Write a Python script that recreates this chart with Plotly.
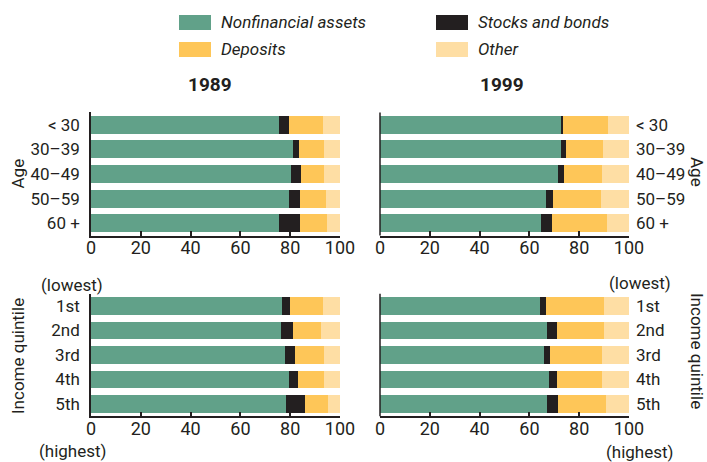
import plotly.graph_objects as go

# ---------------- data ----------------
series_names = ["Nonfinancial assets", "Stocks and bonds", "Deposits", "Other"]
series_colors = ["#61A189", "#231F20", "#FEC658", "#FEDEA4"]

age_cats = ["< 30", "30–39", "40–49", "50–59", "60 +"]
income_cats = ["1st", "2nd", "3rd", "4th", "5th"]
x_ticks = [0, 20, 40, 60, 80, 100]

# 1989, by age
age89_nonfin = [75.6, 81.2, 80.4, 79.6, 75.6]
age89_stocks = [4.0, 2.4, 4.1, 4.4, 8.4]
age89_deposits = [13.7, 10.1, 9.2, 10.5, 10.9]
age89_other = [6.7, 6.3, 6.3, 5.5, 5.1]

# 1999, by age
age99_nonfin = [72.7, 72.7, 71.5, 66.7, 64.7]
age99_stocks = [0.8, 2.0, 2.4, 2.8, 4.4]
age99_deposits = [18.1, 14.9, 15.3, 19.3, 22.1]
age99_other = [8.4, 10.4, 10.8, 11.2, 8.8]

# 1989, by income quintile
inc89_nonfin = [76.8, 76.4, 78.0, 79.6, 78.4]
inc89_stocks = [3.2, 4.8, 4.0, 3.6, 7.7]
inc89_deposits = [13.3, 11.3, 11.7, 10.5, 9.2]
inc89_other = [6.7, 7.5, 6.3, 6.3, 4.7]

# 1999, by income quintile
inc99_nonfin = [64.3, 67.1, 65.9, 67.9, 67.1]
inc99_stocks = [2.4, 4.0, 2.4, 3.2, 4.2]
inc99_deposits = [23.3, 18.9, 20.9, 18.1, 19.5]
inc99_other = [10.0, 10.0, 10.8, 10.8, 9.2]

panels = [
    (age_cats, [age89_nonfin, age89_stocks, age89_deposits, age89_other], "x", "y"),
    (age_cats, [age99_nonfin, age99_stocks, age99_deposits, age99_other], "x2", "y2"),
    (income_cats, [inc89_nonfin, inc89_stocks, inc89_deposits, inc89_other], "x3", "y3"),
    (income_cats, [inc99_nonfin, inc99_stocks, inc99_deposits, inc99_other], "x4", "y4"),
]

FONT = "Roboto, Liberation Sans, sans-serif"
TXT = "#231F20"
W, H = 707, 462
FS = 17

fig = go.Figure()
for cats, vals, xa, ya in panels:
    for name, v, c in zip(series_names, vals, series_colors):
        fig.add_trace(go.Bar(
            y=cats, x=v, orientation="h", name=name, marker=dict(color=c, line=dict(width=0)),
            xaxis=xa, yaxis=ya, showlegend=False, hoverinfo="skip",
        ))

def px_x(p):
    return p / W

def px_y(p):
    return 1 - p / H

xdom_l = [px_x(91), px_x(340)]
xdom_r = [px_x(380), px_x(629)]
ydom_t = [px_y(235.6), px_y(112.4)]
ydom_b = [px_y(416.3), px_y(293.7)]

def xaxis(domain, anchor):
    return dict(domain=domain, anchor=anchor, range=[0, 100], tickvals=x_ticks,
                showgrid=False, zeroline=False, showline=True, linecolor=TXT, linewidth=1.5,
                ticks="inside", ticklen=5, tickwidth=1.5, tickcolor=TXT, automargin=False,
                ticklabelstandoff=-5,
                tickfont=dict(size=18, color=TXT, family=FONT), fixedrange=True)

def topaxis(domain, anchor, over):
    return dict(domain=domain, anchor=anchor, overlaying=over, side="top", range=[0, 100],
                tickvals=x_ticks, showticklabels=False, showgrid=False, zeroline=False,
                showline=False, ticks="inside", ticklen=5, tickwidth=1.5, tickcolor=TXT,
                automargin=False, fixedrange=True)

def yaxis(domain, anchor, cats, side):
    return dict(domain=domain, anchor=anchor, side=side, type="category",
                categoryarray=cats, range=[4.5, -0.5], showgrid=False, zeroline=False,
                showline=(side == "left"), linecolor=TXT, linewidth=1.5, ticks="",
                ticklabelstandoff=6, automargin=False,
                tickfont=dict(size=FS, color=TXT, family=FONT), fixedrange=True)

fig.update_layout(
    width=W, height=H, margin=dict(l=0, r=0, t=0, b=0),
    paper_bgcolor="white", plot_bgcolor="white",
    barmode="stack", bargap=0.27, showlegend=False,
    font=dict(family=FONT, color=TXT, size=FS),
    xaxis=xaxis(xdom_l, "y"),
    xaxis2=xaxis(xdom_r, "y2"),
    xaxis3=xaxis(xdom_l, "y3"),
    xaxis4=xaxis(xdom_r, "y4"),
    xaxis5=topaxis(xdom_l, "y", "x"),
    xaxis6=topaxis(xdom_r, "y2", "x2"),
    xaxis7=topaxis(xdom_l, "y3", "x3"),
    xaxis8=topaxis(xdom_r, "y4", "x4"),
    yaxis=yaxis(ydom_t, "x", age_cats, "left"),
    yaxis2=yaxis(ydom_t, "x2", age_cats, "right"),
    yaxis3=yaxis(ydom_b, "x3", income_cats, "left"),
    yaxis4=yaxis(ydom_b, "x4", income_cats, "right"),
)

# left axis lines for the right-hand panels (labels are on the right)
shapes = []
for xa, ya in [("x2", "y2"), ("x4", "y4")]:
    shapes.append(dict(type="line", xref=f"{xa} domain", yref=f"{ya} domain",
                       x0=0, x1=0, y0=0, y1=1, line=dict(color=TXT, width=1.5)))

# legend (custom, two columns)
legend_items = [
    (series_names[0], series_colors[0], 179, 22.5),
    (series_names[1], series_colors[1], 436, 22.5),
    (series_names[2], series_colors[2], 179, 49.5),
    (series_names[3], series_colors[3], 436, 49.5),
]
annotations = []
for name, col, lx, ly in legend_items:
    shapes.append(dict(type="rect", xref="paper", yref="paper",
                       x0=px_x(lx), x1=px_x(lx + 32), y0=px_y(ly + 7.5), y1=px_y(ly - 7.5),
                       fillcolor=col, line=dict(width=0)))
    annotations.append(dict(xref="paper", yref="paper", x=px_x(lx + 40), y=px_y(ly),
                            xanchor="left", yanchor="middle", showarrow=False,
                            text=f"<i>{name}</i>", font=dict(size=FS, color=TXT, family=FONT)))

def ann(text, x, y, angle=0, bold=False, size=FS):
    t = f"<b>{text}</b>" if bold else text
    annotations.append(dict(xref="paper", yref="paper", x=px_x(x), y=px_y(y),
                            xanchor="center", yanchor="middle", showarrow=False,
                            text=t, textangle=angle, font=dict(size=size, color=TXT, family=FONT)))

ann("1989", 210, 84.5, bold=True, size=19)
ann("1999", 502.5, 84.5, bold=True, size=19)
ann("Age", 17.5, 174, angle=-90)
ann("Age", 697, 172, angle=90)
ann("Income quintile", 18, 356, angle=-90)
ann("Income quintile", 697, 351, angle=90)
ann("(lowest)", 72, 284.5)
ann("(highest)", 72.5, 451)
ann("(lowest)", 640, 282.5)
ann("(highest)", 640, 452)

fig.update_layout(shapes=shapes, annotations=annotations)

fig.write_html("out.html", config={"displayModeBar": False},
               post_script="document.body.style.margin='0px';")
